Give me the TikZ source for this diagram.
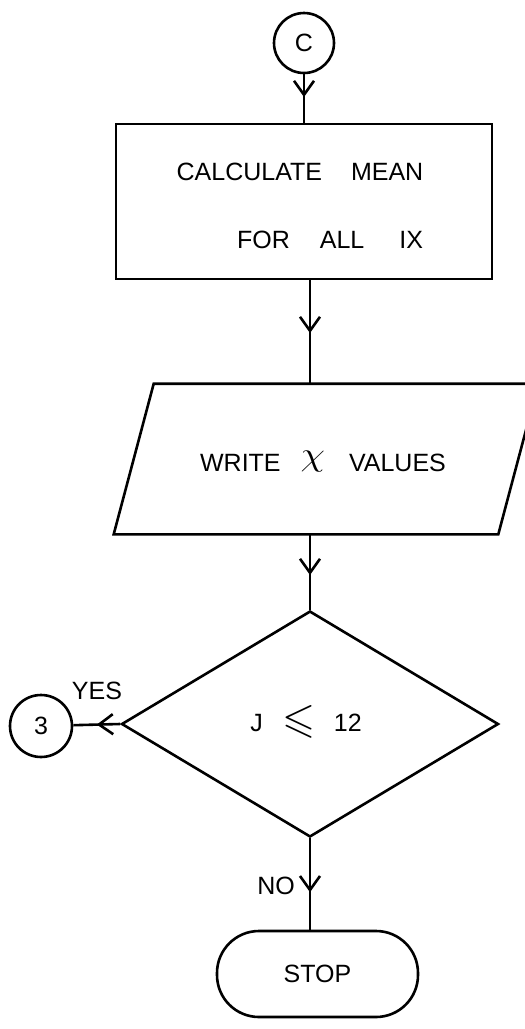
\documentclass[tikz,border=0pt]{standalone}
\usepackage{amssymb}
\usepackage{graphicx}
\usepackage{fontspec}
\setmainfont{Liberation Sans}
\usetikzlibrary{arrows.meta,decorations.markings,shapes.geometric,shapes.misc}
\begin{document}
\begin{tikzpicture}[x=1pt,y=-1pt,
  line width=2.6pt,
  every node/.style={font=\fontsize{25}{30}\selectfont, inner sep=0pt},
  txt/.style={},
  conn/.style={postaction={decorate},decoration={markings,
      mark=at position #1 with {\arrow{Straight Barb[length=14pt,width=20pt]}}}},
  conncircle/.style={circle,draw,minimum size=#1},
  procbox/.style={rectangle,draw,minimum width=376pt,minimum height=155pt},
  iobox/.style={rectangle,minimum width=422pt,minimum height=148pt},
  decbox/.style={diamond,draw,minimum width=377pt,minimum height=226pt},
  termbox/.style={rectangle,draw,rounded corners=42pt,minimum width=201pt,minimum height=86pt}
]
\useasboundingbox (0,0) rectangle (525,1029);
\clip (0,0) rectangle (525,1029);

% connector C
\node[conncircle=60pt] (c) at (304,43) {C};

% process box
\node[procbox] (r) at (304,201.5) {};
\node[txt] (t1) at (300,172) {CALCULATE\hspace{29pt}MEAN};
\node[txt] (t2) at (330,240) {FOR\hspace{30pt}ALL\hspace{35pt}IX};

% input/output parallelogram
\node[iobox] (w) at (326,459) {};
\draw ([xshift=40pt]w.north west) -- (w.north east) -- ([xshift=-40pt]w.south east) -- (w.south west) -- cycle;
\node[txt] (tw) at (323,462) {WRITE\hspace{20pt}\raisebox{6pt}{\scalebox{1.6}[1.35]{$\chi$}}\hspace{24pt}VALUES};

% decision
\node[decbox] (d) at (310,724) {};
\node[txt] (td) at (306,722) {J\hspace{20pt}\raisebox{-1pt}{\scalebox{1.7}{$\leqslant$}}\hspace{18pt}12};

% off-page connector 3
\node[conncircle=62pt] (c3) at (41,726) {3};
\node[txt] (yes) at (97,691) {YES};

% terminal
\node[termbox] (s) at (317.5,974) {STOP};
\node[txt] (no) at (276,886) {NO};

% connectors
\draw[conn=0.47] (c) -- (c |- r.north);
\draw[conn=0.51] (d.north |- r.south) -- (d.north |- w.north);
\draw[conn=0.54] (d.north |- w.south) -- (d.north);
\draw[conn=0.5] (d.west) -- (c3);
\draw[conn=0.59] (d.south) -- (d.south |- s.north);
\end{tikzpicture}
\end{document}
